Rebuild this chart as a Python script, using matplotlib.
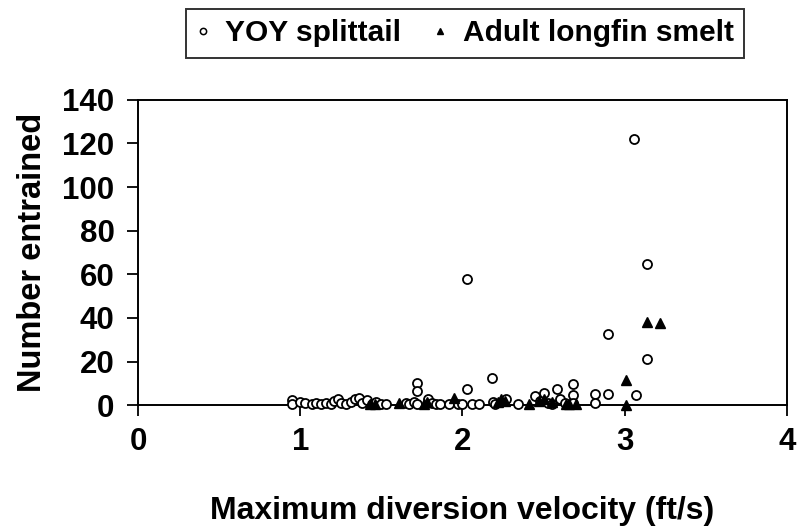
import matplotlib
matplotlib.use('Agg')
import matplotlib.pyplot as plt
from matplotlib.lines import Line2D

plt.rcParams['font.family'] = ['Liberation Sans', 'DejaVu Sans']
plt.rcParams['font.weight'] = 'bold'

# YOY splittail (open circles)
splittail_x = [0.95, 0.95, 1.00, 1.03, 1.07, 1.10, 1.13, 1.16, 1.19, 1.21, 1.23, 1.25,
               1.28, 1.31, 1.34, 1.36, 1.38, 1.41, 1.44, 1.47, 1.50, 1.53, 1.65, 1.67,
               1.70, 1.72, 1.72, 1.72, 1.79, 1.81, 1.84, 1.86, 1.92, 1.97, 2.00, 2.03,
               2.03, 2.06, 2.10, 2.18, 2.19, 2.20, 2.27, 2.34, 2.45, 2.48, 2.50, 2.53,
               2.55, 2.58, 2.60, 2.63, 2.68, 2.68, 2.68, 2.82, 2.82, 2.90, 2.90, 3.07,
               3.06, 3.14, 3.14]
splittail_y = [2.3, 0.5, 1.5, 1.0, 0.5, 1.0, 0.5, 1.0, 0.5, 2.0, 3.0, 1.0,
               0.5, 1.5, 3.0, 3.5, 1.0, 2.5, 0.5, 1.5, 0.5, 0.5, 1.0, 0.5,
               1.5, 10.0, 6.5, 0.5, 3.0, 1.0, 0.5, 0.5, 0.5, 0.5, 0.5, 7.5,
               58.0, 0.5, 0.5, 12.5, 1.5, 0.5, 3.0, 0.5, 4.0, 2.0, 5.5, 1.0,
               0.5, 7.3, 3.0, 1.0, 9.6, 4.6, 1.0, 5.0, 1.0, 5.0, 32.6, 4.5,
               122.0, 64.7, 21.0]

# Adult longfin smelt (filled triangles)
smelt_x = [1.43, 1.46, 1.61, 1.76, 1.78, 1.95, 2.22, 2.24, 2.26, 2.41, 2.47, 2.50,
           2.55, 2.64, 2.66, 2.70, 3.01, 3.01, 3.14, 3.22]
smelt_y = [0.3, 0.3, 1.0, 0.5, 1.5, 3.5, 1.5, 3.0, 2.0, 0.3, 2.0, 3.0,
           1.5, 0.5, 0.5, 0.5, 11.5, 0.0, 38.0, 37.5]

fig = plt.figure(figsize=(7.98, 5.31), dpi=100)
ax = fig.add_axes([0.173, 0.237, 0.813, 0.575])

ax.plot(splittail_x, splittail_y, linestyle='none', marker='o', markersize=6.5,
        markerfacecolor='white', markeredgecolor='black', markeredgewidth=1.3,
        clip_on=False, zorder=3)
ax.plot(smelt_x, smelt_y, linestyle='none', marker='^', markersize=7.5,
        color='black', clip_on=False, zorder=4)

ax.set_xlim(0, 4)
ax.set_ylim(0, 140)
ax.set_xticks([0, 1, 2, 3, 4])
ax.set_yticks(range(0, 141, 20))
for s in ax.spines.values():
    s.set_linewidth(1.4)
ax.tick_params(direction='out', length=8, width=1.3, labelsize=22.5)
ax.tick_params(axis='x', pad=8)
ax.tick_params(axis='y', pad=9)

ax.set_xlabel('Maximum diversion velocity (ft/s)', fontsize=23, fontweight='bold', labelpad=28)
ax.set_ylabel('Number entrained', fontsize=23.5, fontweight='bold', labelpad=10)

handles = [
    Line2D([], [], linestyle='none', marker='o', markersize=4.5, markerfacecolor='white',
           markeredgecolor='black', markeredgewidth=1.1, label='YOY splittail'),
    Line2D([], [], linestyle='none', marker='^', markersize=5, color='black',
           label='Adult longfin smelt'),
]
leg = fig.legend(handles=handles, loc='center', bbox_to_anchor=(0.583, 0.937), ncol=2,
                 frameon=True, fancybox=False, edgecolor='black', fontsize=21.5,
                 handlelength=0.4, handletextpad=0.55, columnspacing=1.1,
                 borderpad=0.35, borderaxespad=0)
leg.get_frame().set_linewidth(1.4)

fig.savefig('out.png', dpi=100)
